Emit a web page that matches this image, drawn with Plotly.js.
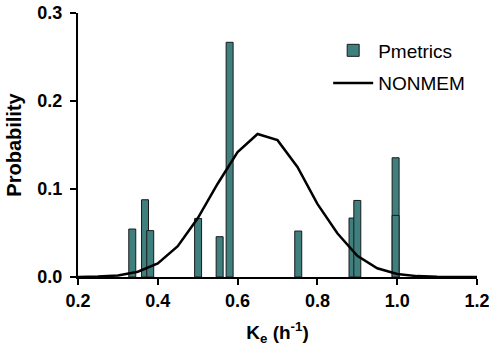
<!DOCTYPE html>
<html>
<head>
<meta charset="utf-8">
<script src="https://cdn.plot.ly/plotly-3.0.1.min.js"></script>
<style>html,body{margin:0;padding:0;background:#fff}#chart{width:489px;height:348px}</style>
</head>
<body>
<div id="chart"></div>
<script>
// Pmetrics support points (Ke) and probabilities
var pmetricsKe   = [0.336, 0.368, 0.381, 0.501, 0.555, 0.580, 0.752, 0.888, 0.900, 0.996, 0.996];
var pmetricsProb = [0.0545, 0.0878, 0.0527, 0.0665, 0.0458, 0.2667, 0.0522, 0.0670, 0.0870, 0.1355, 0.0700];

// NONMEM distribution curve
var nonmemKe   = [0.20, 0.25, 0.30, 0.35, 0.40, 0.45, 0.50, 0.55, 0.60, 0.65, 0.70, 0.75, 0.80, 0.85, 0.90, 0.95, 1.00, 1.05, 1.10, 1.15, 1.20];
var nonmemProb = [0.0001, 0.0005, 0.0018, 0.0060, 0.0155, 0.0350, 0.0667, 0.1060, 0.1420, 0.1625, 0.1555, 0.1250, 0.0830, 0.0497, 0.0240, 0.0099, 0.0034, 0.0010, 0.0003, 0.0001, 0.0000];

var xTickVals = [0.2, 0.4, 0.6, 0.8, 1.0, 1.2];
var xTickText = ["0.2", "0.4", "0.6", "0.8", "1.0", "1.2"];
var yTickVals = [0.0, 0.1, 0.2, 0.3];
var yTickText = ["0.0", "0.1", "0.2", "0.3"];

var font = "Liberation Sans, Arial, sans-serif";
function bold(a) { return a.map(function (t) { return "<b>" + t + "</b>"; }); }

var traces = [
  {
    type: "bar", name: "Pmetrics", x: pmetricsKe, y: pmetricsProb,
    width: 0.0175,
    marker: {color: "#3f7f7d", line: {color: "#1a1a1a", width: 1}},
    legendgroup: "a"
  },
  {
    type: "scatter", mode: "lines", name: "NONMEM", x: nonmemKe, y: nonmemProb,
    line: {color: "#000", width: 2.5},
    legendgroup: "b"
  }
];

var layout = {
  width: 489, height: 348,
  margin: {l: 78, r: 12, t: 13, b: 71, pad: 0},
  paper_bgcolor: "#fff", plot_bgcolor: "#fff",
  barmode: "overlay",
  showlegend: true,
  legend: {
    x: 0.627, y: 0.93, xanchor: "left", yanchor: "top",
    font: {family: font, size: 19, color: "#000"},
    bgcolor: "rgba(0,0,0,0)", traceorder: "grouped", tracegroupgap: 5,
    itemwidth: 40
  },
  xaxis: {
    range: [0.2, 1.2], tickvals: xTickVals, ticktext: bold(xTickText),
    showgrid: false, zeroline: false,
    showline: true, linecolor: "#000", linewidth: 2,
    ticks: "outside", ticklen: 6, tickwidth: 2, tickcolor: "#000",
    ticklabeloverflow: "allow",
    tickfont: {family: font, size: 18, color: "#000"},
    title: {text: "<b>K<sub>e</sub> (h<sup>-1</sup>)</b>", font: {family: font, size: 19, color: "#000"}, standoff: 16}
  },
  yaxis: {
    range: [0, 0.3], tickvals: yTickVals, ticktext: bold(yTickText),
    showgrid: false, zeroline: false,
    showline: true, linecolor: "#000", linewidth: 2,
    ticks: "outside", ticklen: 6, tickwidth: 2, tickcolor: "#000",
    ticklabelstandoff: 4, ticklabeloverflow: "allow",
    tickfont: {family: font, size: 18, color: "#000"},
    title: {text: "<b>Probability</b>", font: {family: font, size: 20, color: "#000"}, standoff: 10}
  }
};

Plotly.newPlot("chart", traces, layout, {displayModeBar: false, staticPlot: true});
</script>
</body>
</html>
